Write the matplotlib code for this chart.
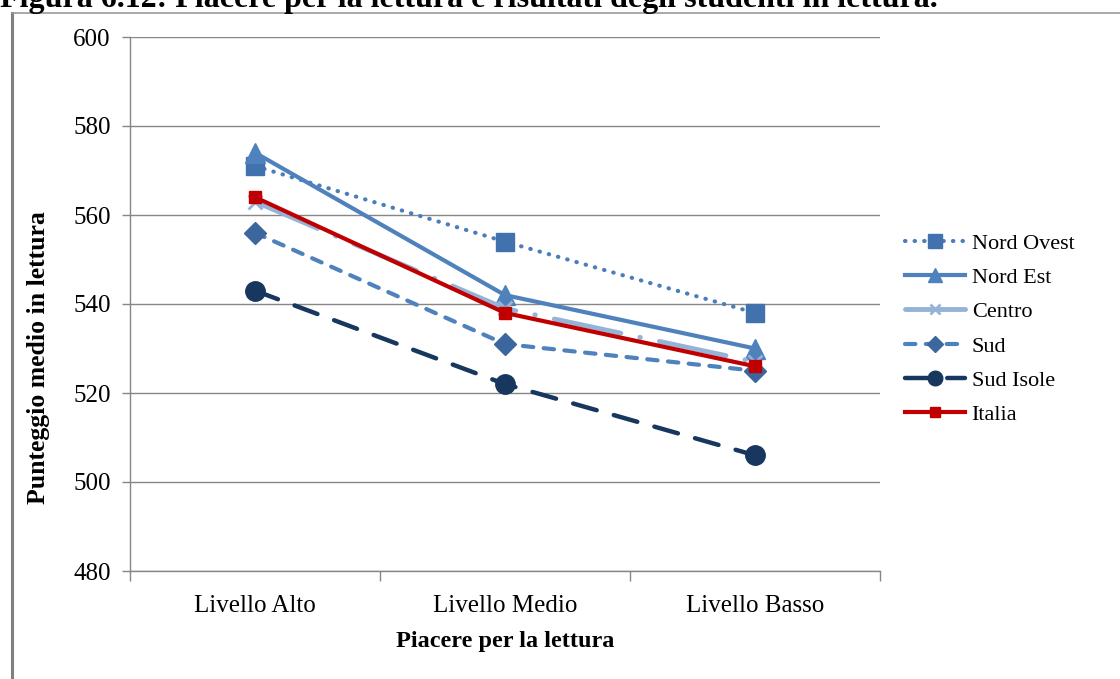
import matplotlib
matplotlib.use("Agg")
import matplotlib.pyplot as plt
from matplotlib.lines import Line2D

categories = ["Livello Alto", "Livello Medio", "Livello Basso"]
nord_ovest = [571, 554, 538]
nord_est = [574, 542, 530]
centro = [563, 539, 527]
sud = [556, 531, 525]
sud_isole = [543, 522, 506]
italia = [564, 538, 526]
y_ticks = [480, 500, 520, 540, 560, 580, 600]

W, H = 1120, 679
fig = plt.figure(figsize=(W / 100, H / 100), dpi=100)
plt.rcParams['font.family'] = ['Liberation Serif', 'DejaVu Serif']

ax = fig.add_axes([130 / W, 1 - 571 / H, 750 / W, 534 / H])
x = list(range(len(categories)))

series = [
    ("Nord Ovest", nord_ovest, dict(color="#4A7EBB", lw=3, ls=(0, (0.1, 2.2)), marker="s", ms=13,
                                    mfc="#4272AE", mec="#4272AE", dash_capstyle="round")),
    ("Nord Est", nord_est, dict(color="#4F81BD", lw=3, ls="-", marker="^", ms=14,
                                mfc="#4F81BD", mec="#4F81BD")),
    ("Centro", centro, dict(color="#95B3D7", lw=3.5, ls=(0, (14, 4, 0.1, 4)), marker="x", ms=10,
                            mew=2, mfc="#95B3D7", mec="#95B3D7", dash_capstyle="round")),
    ("Sud", sud, dict(color="#4F81BD", lw=3, ls=(0, (2.5, 2.5)), marker="D", ms=11,
                      mfc="#3B679E", mec="#3B679E", dash_capstyle="round")),
    ("Sud Isole", sud_isole, dict(color="#17375E", lw=3.2, ls=(0, (5.5, 4)), marker="o", ms=14,
                                  mfc="#17375E", mec="#17375E", dash_capstyle="round")),
    ("Italia", italia, dict(color="#C00000", lw=3, ls="-", marker="s", ms=9,
                            mfc="#C00000", mec="#C00000")),
]

handles = []
for name, vals, kw in series:
    h, = ax.plot(x, vals, label=name, **kw)
    handles.append(h)

ax.set_xlim(-0.5, len(categories) - 0.5)
ax.set_ylim(480, 600)
ax.set_yticks(y_ticks)
ax.set_xticks([i - 0.5 for i in range(len(categories) + 1)])
ax.set_xticklabels([])
ax.set_xticks(x, minor=True)
ax.set_xticklabels(categories, minor=True)
ax.tick_params(axis='x', which='minor', length=0, pad=17, labelsize=18)
ax.tick_params(axis='x', which='major', length=7, color="#868686", width=1)
ax.tick_params(axis='y', length=6, color="#868686", width=1, labelsize=18, pad=8)
ax.grid(axis='y', color="#868686", lw=1)
ax.set_axisbelow(True)
for s in ["top", "right"]:
    ax.spines[s].set_visible(False)
for s in ["left", "bottom"]:
    ax.spines[s].set_color("#868686")
    ax.spines[s].set_linewidth(1)

ax.set_ylabel("Punteggio medio in lettura", fontsize=18.5, fontweight="bold")
ax.yaxis.set_label_coords(-80 / 750, 0.40)
ax.set_xlabel("Piacere per la lettura", fontsize=17.5, fontweight="bold")
ax.xaxis.set_label_coords(0.5, -(642 - 571) / 534)
ax.xaxis.label.set_va("center")

fig.legend(handles=handles, loc="upper left", bbox_to_anchor=(905 / W, 1 - 233 / H),
           frameon=False, fontsize=16, handlelength=2.7, handletextpad=0.3,
           labelspacing=0.62, borderpad=0, borderaxespad=0, markerscale=0.75)

# frame lines
fig.add_artist(Line2D([12 / W, 12 / W], [0, 1 - 13 / H], color="#808080", lw=2.2,
                      transform=fig.transFigure))
fig.add_artist(Line2D([12 / W, 1], [1 - 13 / H, 1 - 13 / H], color="#9A9A9A", lw=1.2,
                      transform=fig.transFigure))

fig.text(0, 1 - 7 / H, "Figura 6.12: Piacere per la lettura e risultati degli studenti in lettura.",
         fontsize=23, fontweight="bold", ha="left", va="baseline")

fig.savefig("out.png", dpi=100)
